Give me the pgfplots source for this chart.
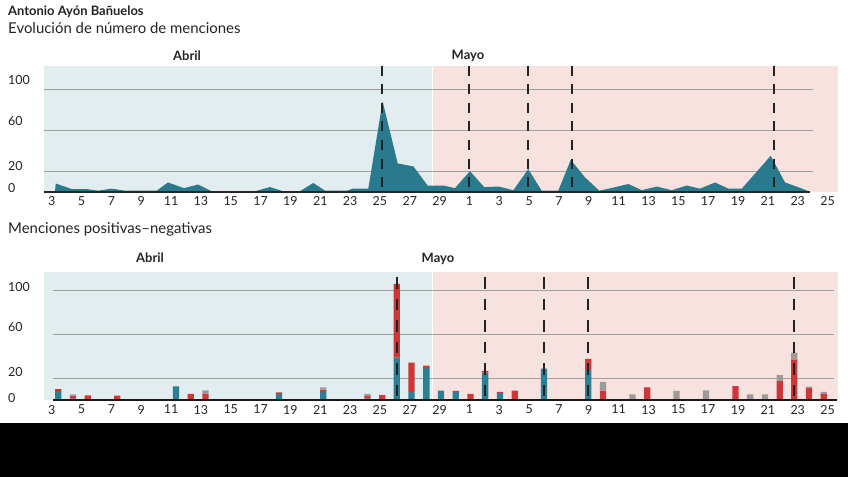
\documentclass[border=0pt]{standalone}
\usepackage{pgfplots}
\pgfplotsset{compat=1.18}
\usepackage{pgfplotstable}
\usepackage{fontspec}
\setmainfont{Lato}

\definecolor{bgblue}{RGB}{226,237,240}
\definecolor{bgpink}{RGB}{248,226,224}
\definecolor{tealarea}{RGB}{40,122,140}
\definecolor{tealbar}{RGB}{42,128,148}
\definecolor{redbar}{RGB}{207,55,55}
\definecolor{graybar}{RGB}{155,155,155}
\definecolor{gridc}{RGB}{160,160,160}
\definecolor{txt}{RGB}{35,35,35}

% menciones positivas (teal), negativas (red), neutras (gray)
\pgfplotstableread{
x     teal  red   gray
0.44  7.5   2.5   0
1.43  1.5   2.5   1.2
2.42  0     4.3   0
4.39  0     4     0
8.33  12.5  0     0
9.32  0     5.5   0
10.31 0     5.5   3.3
15.24 5.5   1.5   0
18.20 7.3   2.2   2.1
21.16 1.5   2     2
22.15 0     4.5   0
23.13 38.5  67    0
24.12 7.3   26.6  0
25.11 29.1  2.1   0
26.09 8.5   0     0
27.08 7.3   0.9   0
28.07 0     5.5   0
29.05 24.8  1.8   0
30.04 6.4   1.1   0
31.03 0     8.5   0
33.00 28.5  0     0
33.99 0     0.6   0
34.97 0     0.6   0
35.96 27.3  10    0
36.95 0     8.6   7.8
38.92 0     1     4.2
39.91 1     10.4  0
41.88 0     1.5   6.7
43.85 0     1.5   7.3
44.84 0     0.8   0
45.83 0     12.7  0
46.81 0     1     4.2
47.80 0     1     4.2
48.79 0     17.3  5.4
49.77 0     37    6
50.76 0     10.9  1.2
51.75 0     5.5   2
}\barsdata

\pgfplotsset{
  chartbase/.style={
    scale only axis, width=794bp, clip=false, enlargelimits=false,
    xmin=-0.516, xmax=52.70, ymin=0,
    axis line style={draw=none}, tick style={draw=none}, major tick length=0pt,
    xtick={0,2,...,52},
    xticklabels={3,5,7,9,11,13,15,17,19,21,23,25,27,29,1,3,5,7,9,11,13,15,17,19,21,23,25},
    ytick={0,20,60,100},
    ticklabel style={font=\fontsize{12.5}{14}\selectfont, text=txt},
    yticklabel style={anchor=base west, inner sep=0pt, xshift=-36bp},
    xticklabel style={anchor=north, yshift=-1.5bp},
  },
}

\begin{document}
\begin{tikzpicture}[x=1bp, y=1bp]
\path[use as bounding box, fill=white] (0,0) rectangle (848,-477);
\fill[black] (0,-423) rectangle (848,-477);

\node[anchor=base west, inner sep=0pt, text=txt] at (8,-16)
  {\fontsize{13}{15}\selectfont\bfseries Antonio Ayón Bañuelos};
\node[anchor=base west, inner sep=0pt, text=txt] at (8,-34)
  {\fontsize{15}{17}\selectfont Evolución de número de menciones};
\node[text=txt, inner sep=0pt] at (187,-56) {\fontsize{13}{15}\selectfont\bfseries Abril};
\node[text=txt, inner sep=0pt] at (468,-56) {\fontsize{13}{15}\selectfont\bfseries Mayo};

\begin{axis}[chartbase, at={(44bp,-191.7bp)}, anchor=south west,
  height=125.7bp, ymax=122.6,
  yticklabels={\raisebox{-0.5bp}{0},\raisebox{0.5bp}{20},\raisebox{4.5bp}{60},\raisebox{4.5bp}{100}}]
\fill[bgblue] (axis cs:-0.516,0) rectangle (axis cs:25.46,122.6);
\fill[bgpink] (axis cs:25.56,0) rectangle (axis cs:52.70,122.6);
\foreach \g in {20,60,100}{
  \edef\tmp{\noexpand\draw[gridc, line width=1bp] (axis cs:-0.516,\g) -- (axis cs:51.0,\g);}\tmp
}
\addplot[fill=tealarea, draw=none] coordinates {
(0.22,0) (0.27,8) (1.34,2.6) (2.35,2.6) (3.10,1) (4.02,3) (4.91,1) (7.04,1)
(7.79,9) (8.87,3.5) (9.81,7) (10.72,0.5) (13.63,0.5) (14.63,4.5) (15.50,0.5)
(16.64,0.5) (17.53,8.5) (18.32,1) (19.77,1) (20.21,3) (21.22,3) (22.18,88)
(23.19,27.6) (24.24,24.7) (25.20,6) (26.25,6) (27.03,3.5) (28.03,20) (28.99,4.5)
(29.98,5) (30.94,1.5) (31.94,22) (32.84,1) (33.95,1) (34.79,31) (35.74,14)
(36.70,1) (37.64,4) (38.65,7.5) (39.54,1.5) (40.55,5) (41.55,1.5) (42.56,6)
(43.45,3) (44.46,9) (45.35,3) (46.25,3) (48.19,35) (49.15,9) (49.93,5) (50.82,0)
} \closedcycle;
\draw[black!85, line width=2.4bp] (axis cs:-0.516,0) -- (axis cs:50.82,0);
\foreach \d in {22.17,27.98,31.93,34.85,48.41}{
  \edef\tmp{\noexpand\draw[txt, line width=2bp, dash pattern=on 10bp off 8.5bp]
    (axis cs:\d,122.6) -- (axis cs:\d,0);}\tmp
}
\end{axis}

\node[anchor=base west, inner sep=0pt, text=txt] at (8,-234)
  {\fontsize{15}{17}\selectfont Menciones positivas–negativas};
\node[text=txt, inner sep=0pt] at (150,-258) {\fontsize{13}{15}\selectfont\bfseries Abril};
\node[text=txt, inner sep=0pt] at (438,-259) {\fontsize{13}{15}\selectfont\bfseries Mayo};

\begin{axis}[chartbase, at={(44bp,-400bp)}, anchor=south west,
  height=128bp, ymax=116.4,
  yticklabels={\raisebox{-2.5bp}{0},\raisebox{1.5bp}{20},\raisebox{2.5bp}{60},\raisebox{-1.5bp}{100}},
  ybar stacked, reverse stacked plots=false, bar width=6.3bp]
\fill[bgblue] (axis cs:-0.516,0) rectangle (axis cs:25.46,116.4);
\fill[bgpink] (axis cs:25.56,0) rectangle (axis cs:52.70,116.4);
\foreach \g in {20,60,100}{
  \edef\tmp{\noexpand\draw[gridc, line width=1bp] (axis cs:0.09,\g) -- (axis cs:52.43,\g);}\tmp
}
\addplot[fill=tealbar, draw=none] table[x=x, y=teal] {\barsdata};
\addplot[fill=redbar, draw=none] table[x=x, y=red] {\barsdata};
\addplot[fill=graybar, draw=none] table[x=x, y=gray] {\barsdata};
\draw[black!90, line width=2.5bp] (axis cs:0.09,0) -- (axis cs:52.6,0);
\foreach \d in {23.13,29.05,33.00,35.96,49.77}{
  \edef\tmp{\noexpand\draw[txt, line width=2bp, dash pattern=on 11.5bp off 10bp]
    (axis cs:\d,111.8) -- (axis cs:\d,-4.5);}\tmp
}
\end{axis}
\end{tikzpicture}
\end{document}
